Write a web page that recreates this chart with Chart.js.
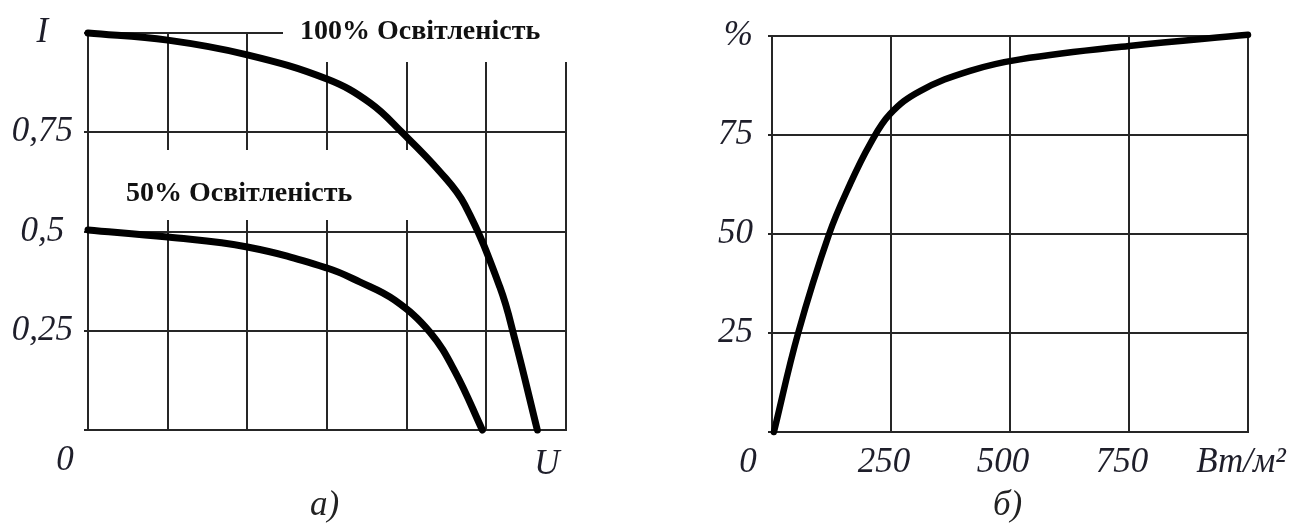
<!DOCTYPE html>
<html><head><meta charset="utf-8">
<script src="https://cdn.jsdelivr.net/npm/chart.js@4"></script>
<style>
html,body{margin:0;padding:0;background:#fff;}
#wrap{position:relative;width:1308px;height:530px;overflow:hidden;background:#fff;}
.c{position:absolute;top:0;}
.cap{position:absolute;font:italic 35px "Liberation Serif","Times New Roman",serif;line-height:35px;color:#222;}
</style></head><body>
<div id="wrap">
<div class="c" style="left:0;width:640px;height:530px"><canvas id="chartA" width="640" height="530"></canvas></div>
<div class="c" style="left:640px;width:668px;height:530px"><canvas id="chartB" width="668" height="530"></canvas></div>
<div class="cap" style="left:310px;top:486px">а)</div>
<div class="cap" style="left:993px;top:486px">б)</div>
</div>
<script>
// ---- data ----
const voltageFull = [0, 1, 2, 3, 3.54, 3.95, 4.42, 4.73, 5.17, 5.36, 5.64];
const currentFull = [1.0, 0.982, 0.945, 0.884, 0.824, 0.748, 0.650, 0.567, 0.360, 0.227, 0];
const voltageHalf = [0, 1, 2, 3, 3.41, 3.85, 4.29, 4.61, 4.95];
const currentHalf = [0.504, 0.486, 0.461, 0.408, 0.373, 0.327, 0.247, 0.146, 0];
const irradiance = [4, 55, 120, 164, 206, 248, 311, 416, 521, 750, 1000];
const efficiency = [0, 25, 50, 62.6, 72.7, 80.3, 86.1, 91.2, 94.1, 97.5, 100.3];
const seriesNames = ['100% Освітленість', '50% Освітленість'];
const leftXGrid = [0, 1, 2, 3, 4, 5, 6];
const leftYTicks = [0, 0.25, 0.5, 0.75, 1];
const leftYLabels = ['', '0,25', '0,5', '0,75', 'I'];
const leftXNames = ['0', 'U'];
const rightXTicks = [0, 250, 500, 750, 1000];
const rightXLabels = ['', '250', '500', '750', 'Вт/м²'];
const rightYTicks = [0, 25, 50, 75, 100];
const rightYLabels = ['', '25', '50', '75', '%'];
const rightOrigin = '0';

const GRID = '#262626';
const TXT = '#1e1e2a';
const FONT = '"Liberation Serif","Times New Roman",serif';
const tickFont = {family: FONT, size: 35, style: 'italic'};

function pts(xs, ys){ return xs.map((v,i)=>({x:v, y:ys[i]})); }
function setTicks(arr){ return s => { s.ticks = arr.map(v=>({value:v})); }; }

// ---- left chart: I-U ----
const leftDecor = {
  id: 'leftDecor',
  beforeDatasetsDraw(chart){
    const {ctx, chartArea:a} = chart;
    ctx.save();
    ctx.fillStyle = '#fff';
    // clear grid behind the series labels
    ctx.fillRect(a.left + 195, 0, a.right - a.left, 62);
    ctx.fillRect(a.left + 3, 150, 322, 70);
    ctx.restore();
  },
  afterDatasetsDraw(chart){
    const {ctx, chartArea:a} = chart;
    ctx.save();
    ctx.fillStyle = '#111';
    ctx.font = 'bold 28px ' + FONT;
    ctx.textBaseline = 'middle';
    ctx.textAlign = 'left';
    ctx.fillText(seriesNames[0], a.left + 212, 32);
    ctx.fillText(seriesNames[1], a.left + 38, 194);
    ctx.fillStyle = TXT;
    ctx.font = 'italic 35px ' + FONT;
    ctx.textAlign = 'center';
    ctx.fillText(leftXNames[0], a.left - 23, a.bottom + 31);
    ctx.fillText(leftXNames[1], a.right - 19, a.bottom + 35);
    ctx.restore();
  }
};

const lineStyle = {borderColor:'#000', pointRadius:0, tension:0.4, clip:false, borderCapStyle:'round', borderJoinStyle:'round'};

new Chart(document.getElementById('chartA'), {
  type: 'line',
  data: {
    datasets: [
      Object.assign({label: seriesNames[0], data: pts(voltageFull, currentFull), borderWidth:7}, lineStyle),
      Object.assign({label: seriesNames[1], data: pts(voltageHalf, currentHalf), borderWidth:7}, lineStyle)
    ]
  },
  options: {
    responsive:false, animation:false, events:[],
    layout:{padding:{left:0, top:33, right:74, bottom:0}},
    plugins:{legend:{display:false}, tooltip:{enabled:false}},
    scales:{
      x:{type:'linear', min:0, max:6, afterBuildTicks:setTicks(leftXGrid),
         ticks:{display:false},
         grid:{color:GRID, lineWidth:2, drawTicks:false},
         border:{color:GRID, width:2},
         afterFit:s=>{s.height=100;}},
      y:{type:'linear', min:0, max:1, afterBuildTicks:setTicks(leftYTicks),
         ticks:{font:tickFont, color:TXT, padding:11, crossAlign:'center',
                callback:(v)=>leftYLabels[leftYTicks.indexOf(v)]},
         grid:{color:GRID, lineWidth:2, drawTicks:true, tickLength:4},
         border:{color:GRID, width:2},
         afterFit:s=>{s.width=88;}}
    }
  },
  plugins:[leftDecor]
});

// ---- right chart: efficiency vs irradiance ----
const rightDecor = {
  id:'rightDecor',
  afterDatasetsDraw(chart){
    const {ctx, chartArea:a} = chart;
    ctx.save();
    ctx.fillStyle = TXT;
    ctx.font = 'italic 35px ' + FONT;
    ctx.textAlign = 'center';
    ctx.textBaseline = 'middle';
    ctx.fillText(rightOrigin, a.left - 24, a.bottom + 31);
    ctx.restore();
  }
};

new Chart(document.getElementById('chartB'), {
  type:'line',
  data:{
    datasets:[
      Object.assign({label:'ККД', data: pts(irradiance, efficiency), borderWidth:6.5}, lineStyle)
    ]
  },
  options:{
    responsive:false, animation:false, events:[],
    layout:{padding:{left:0, top:35, right:60, bottom:0}},
    plugins:{legend:{display:false}, tooltip:{enabled:false}},
    scales:{
      x:{type:'linear', min:0, max:1000, afterBuildTicks:setTicks(rightXTicks),
         ticks:{font:tickFont, color:TXT, padding:10, labelOffset:-7, autoSkip:false, maxRotation:0,
                callback:(v)=>rightXLabels[rightXTicks.indexOf(v)]},
         grid:{color:GRID, lineWidth:2, drawTicks:false},
         border:{color:GRID, width:2},
         afterFit:s=>{s.height=98;}},
      y:{type:'linear', min:0, max:100, afterBuildTicks:setTicks(rightYTicks),
         ticks:{font:tickFont, color:TXT, padding:15,
                callback:(v)=>rightYLabels[rightYTicks.indexOf(v)]},
         grid:{color:GRID, lineWidth:2, drawTicks:true, tickLength:4},
         border:{color:GRID, width:2},
         afterFit:s=>{s.width=132;}}
    }
  },
  plugins:[rightDecor]
});
</script>
</body></html>
